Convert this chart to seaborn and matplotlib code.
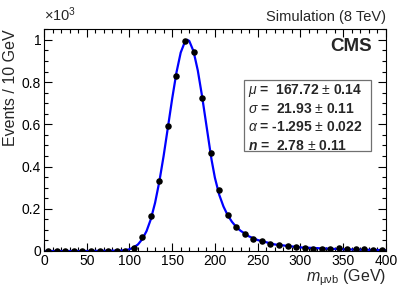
import numpy as np
import pandas as pd
import matplotlib
matplotlib.use("Agg")
import matplotlib.pyplot as plt
from matplotlib.ticker import MultipleLocator
import seaborn as sns

# events per 10 GeV bin (x10^3)
bin_centres = [5, 15, 25, 35, 45, 55, 65, 75, 85, 95,
               105, 115, 125, 135, 145, 155, 165, 175, 185, 195,
               205, 215, 225, 235, 245, 255, 265, 275, 285, 295,
               305, 315, 325, 335, 345, 355, 365, 375, 385, 395]
events = [0, 0, 0, 0, 0, 0, 0, 0, 0, 0.001,
          0.013, 0.066, 0.166, 0.332, 0.592, 0.829, 0.994, 0.942, 0.724, 0.463,
          0.291, 0.171, 0.112, 0.079, 0.055, 0.046, 0.035, 0.027, 0.022, 0.021,
          0.016, 0.011, 0.011, 0.009, 0.013, 0.008, 0.008, 0.008, 0.005, 0.003]

# fitted curve
fit_x = [0, 50, 90, 95, 100, 105, 110, 115, 120, 125, 130, 135, 140, 145, 150,
         155, 160, 165, 167.7, 170, 175, 180, 185, 190, 195, 196.1, 200, 205,
         210, 215, 220, 225, 230, 240, 250, 270, 300, 350, 400]
fit_y = [0, 0, 0.002, 0.004, 0.008, 0.017, 0.031, 0.056, 0.094, 0.150, 0.228,
         0.329, 0.450, 0.585, 0.721, 0.845, 0.940, 0.992, 1.0, 0.995, 0.946,
         0.855, 0.733, 0.597, 0.461, 0.432, 0.347, 0.267, 0.211, 0.169, 0.138,
         0.114, 0.096, 0.069, 0.052, 0.031, 0.017, 0.008, 0.004]

fit_lines = [(r"$\mu$", " =  167.72 ", "0.14"),
             (r"$\sigma$", " =  21.93 ", "0.11"),
             (r"$\alpha$", " = -1.295 ", "0.022"),
             (r"$\mathbfit{n}$", " =  2.78 ", "0.11")]

sns.set_style("ticks")
plt.rcParams["font.family"] = ["Liberation Sans", "DejaVu Sans"]
plt.rcParams["mathtext.fontset"] = "custom"
plt.rcParams["mathtext.rm"] = "Liberation Sans"
plt.rcParams["mathtext.it"] = "Liberation Sans:italic"
plt.rcParams["mathtext.bf"] = "Liberation Sans:bold"
plt.rcParams["mathtext.bfit"] = "Liberation Sans:bold:italic"

pts = pd.DataFrame({"x": bin_centres, "y": events})
fit = pd.DataFrame({"x": fit_x, "y": fit_y})

fig = plt.figure(figsize=(4.07, 2.89), dpi=100)
ax = fig.add_axes([0.108, 0.1315, 0.840, 0.7685])

sns.lineplot(data=fit, x="x", y="y", ax=ax, color="#0000ff", lw=1.6,
             sort=False, zorder=2)
sns.scatterplot(data=pts, x="x", y="y", ax=ax, color="black", s=22,
                edgecolor="black", linewidth=0, zorder=3)

ax.set_xlim(0, 400)
ax.set_ylim(0, 1.052)
ax.xaxis.set_major_locator(MultipleLocator(50))
ax.xaxis.set_minor_locator(MultipleLocator(10))
ax.yaxis.set_major_locator(MultipleLocator(0.2))
ax.yaxis.set_minor_locator(MultipleLocator(0.05))
ax.set_yticks([0, 0.2, 0.4, 0.6, 0.8, 1.0], ["0", "0.2", "0.4", "0.6", "0.8", "1"])
ax.tick_params(which="both", direction="in", top=True, right=True,
               labelsize=10, width=0.8, colors="black", pad=2)
ax.tick_params(which="major", length=6)
ax.tick_params(which="minor", length=3)
for sp in ax.spines.values():
    sp.set_visible(True)
    sp.set_linewidth(0.8)
    sp.set_color("black")

ax.set_xlabel(r"$m_{\mathrm{\mu\nu b}}$ (GeV)", fontsize=11.5, loc="right", labelpad=0)
ax.set_ylabel("Events / 10 GeV", fontsize=11.5, loc="top", labelpad=3)

ax.text(0.0, 1.035, r"$\times$10$^{3}$", transform=ax.transAxes, fontsize=10.5,
        ha="left", va="baseline")
ax.text(1.0, 1.02, "Simulation (8 TeV)", transform=ax.transAxes, fontsize=10.5,
        ha="right", va="bottom")
ax.text(0.958, 0.9, "CMS", transform=ax.transAxes, fontsize=13.5,
        fontweight="bold", ha="right", va="baseline")

ax.add_patch(plt.Rectangle((0.585, 0.45), 0.371, 0.32, transform=ax.transAxes,
                           facecolor="white", edgecolor="#707070", lw=0.9,
                           zorder=4))
for i, (sym, num, err) in enumerate(fit_lines):
    y = 0.705 - i * 0.083
    ax.text(0.598, y, sym + num + r"$\pm$" + " " + err, transform=ax.transAxes,
            fontsize=10, fontweight="bold", ha="left", va="baseline", zorder=5)

fig.savefig("out.png", dpi=100)
